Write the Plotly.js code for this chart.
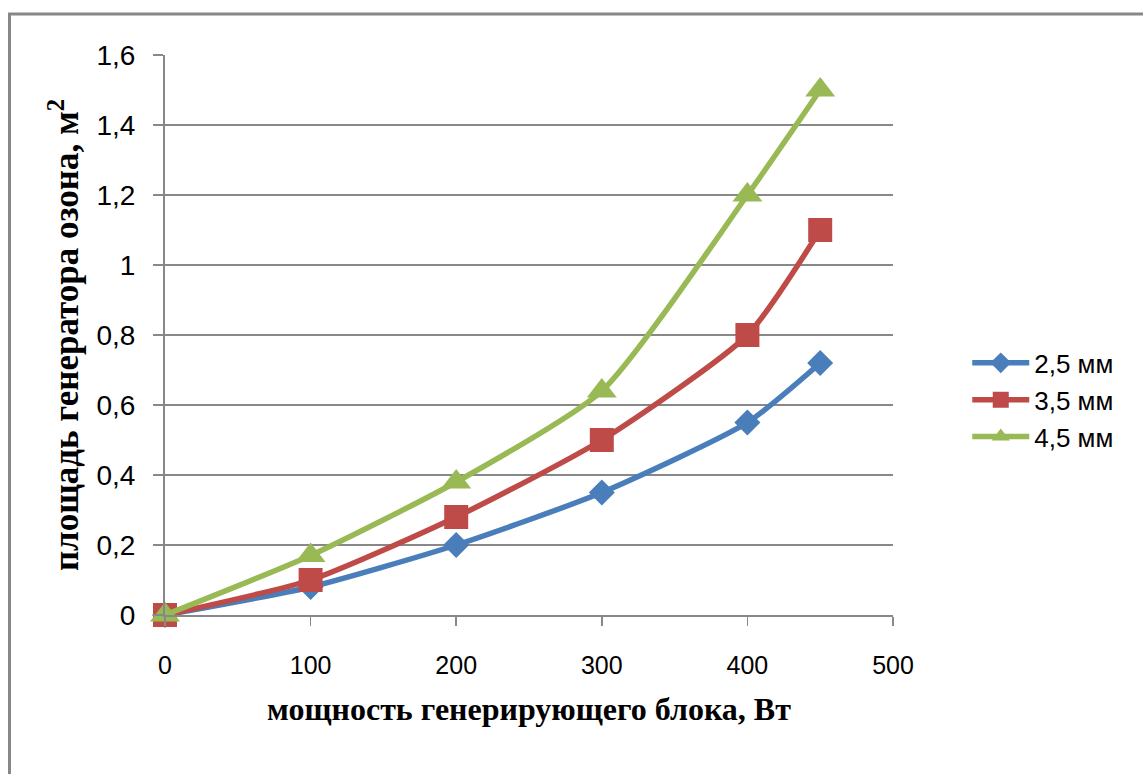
<!DOCTYPE html>
<html>
<head>
<meta charset="utf-8">
<script src="https://cdn.plot.ly/plotly-3.0.1.min.js"></script>
<style>html,body{margin:0;padding:0;background:#fff;}#chart{width:1143px;height:774px;}</style>
</head>
<body>
<div id="chart"></div>
<script>
const power = [0, 100, 200, 300, 400, 450];
const series25 = [0, 0.08, 0.2, 0.35, 0.55, 0.72];
const series35 = [0, 0.1, 0.28, 0.5, 0.8, 1.1];
const series45 = [0, 0.17, 0.38, 0.64, 1.2, 1.5];
const seriesNames = ['2,5 мм', '3,5 мм', '4,5 мм'];
const xTicks = [0, 100, 200, 300, 400, 500];
const yTicks = [0, 0.2, 0.4, 0.6, 0.8, 1, 1.2, 1.4, 1.6];

const colors = ['#4a7ebb', '#be4b48', '#98b954'];
const symbols = ['diamond', 'square', 'triangle-up'];
const sizes = [20, 24, 26];
const allSeries = [series25, series35, series45];

const traces = allSeries.map((ys, i) => ({
  x: power, y: ys, name: seriesNames[i], type: 'scatter', mode: 'lines+markers',
  line: {color: colors[i], width: 5.5, shape: 'spline', smoothing: 0.6},
  marker: {color: colors[i], symbol: symbols[i], size: sizes[i], line: {width: 0}},
  cliponaxis: false
}));

const layout = {
  width: 1143, height: 774,
  margin: {l: 165, r: 250, t: 55, b: 159},
  paper_bgcolor: '#fff', plot_bgcolor: '#fff',
  separators: ', ',
  showlegend: true,
  xaxis: {
    range: [0, 500], tickvals: xTicks, ticktext: xTicks.map(String),
    showgrid: false, zeroline: false, showline: true, linecolor: '#888', linewidth: 2,
    ticks: 'outside', ticklen: 9, tickwidth: 1.5, tickcolor: '#888',
    ticklabelstandoff: 18,
    tickfont: {family: 'Liberation Sans, sans-serif', size: 25, color: '#000'},
    title: {text: 'мощность генерирующего блока, Вт', standoff: 20,
      font: {family: 'Liberation Serif, serif', size: 32, color: '#000', weight: 'bold'}}
  },
  yaxis: {
    range: [0, 1.6], tickvals: yTicks, ticktext: yTicks.map(v => String(v).replace('.', ',')),
    showgrid: true, gridcolor: '#888', gridwidth: 2, zeroline: false,
    showline: true, linecolor: '#888', linewidth: 2,
    ticks: 'outside', ticklen: 10, tickwidth: 2, tickcolor: '#888',
    ticklabelstandoff: 12,
    tickfont: {family: 'Liberation Sans, sans-serif', size: 28, color: '#000'},
    title: {text: 'площадь генератора озона, м<sup>2</sup>', standoff: 7,
      font: {family: 'Liberation Serif, serif', size: 35, color: '#000', weight: 'bold'}}
  },
  legend: {
    x: 1.102, y: 0.384, xanchor: 'left', yanchor: 'middle',
    font: {family: 'Liberation Sans, sans-serif', size: 26, color: '#000'},
    itemwidth: 57, tracegroupgap: 0, bgcolor: 'rgba(0,0,0,0)'
  },
  shapes: [{
    type: 'rect', xref: 'paper', yref: 'paper',
    x0: (9.5 - 165) / 728, x1: (1160 - 165) / 728,
    y0: (615 - 800) / 560, y1: (615 - 14) / 560,
    line: {color: '#878787', width: 3}, fillcolor: 'rgba(0,0,0,0)', layer: 'below'
  }]
};

Plotly.newPlot('chart', traces, layout, {displayModeBar: false, staticPlot: true});
</script>
</body>
</html>
